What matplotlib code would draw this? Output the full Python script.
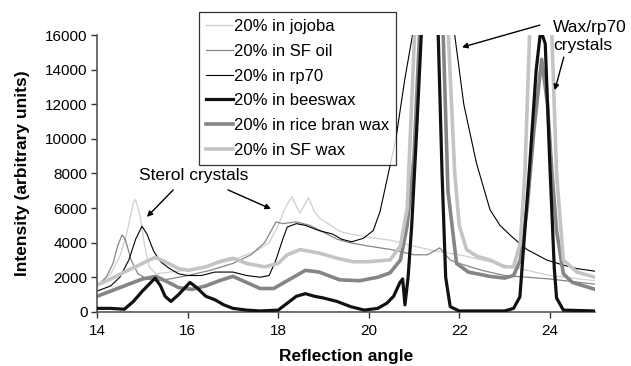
import matplotlib
matplotlib.use("Agg")
import matplotlib.pyplot as plt

plt.rcParams['font.family'] = ['Liberation Sans', 'DejaVu Sans']

# reflection angle / intensity
jojoba_x = [14.0, 14.3, 14.5, 14.65, 14.8, 14.85, 14.95, 15.05, 15.15, 15.3, 15.6, 16.0, 16.5, 17.0,
            17.5, 17.8, 18.0, 18.15, 18.3, 18.48, 18.67, 18.8, 18.92, 19.1, 19.36, 19.6, 20.0, 20.47,
            21.0, 21.5, 22.0, 22.5, 23.0, 23.5, 24.0, 24.5, 25.0]
jojoba_y = [1500, 2200, 3200, 4500, 6300, 6500, 5500, 3800, 2600, 2200, 2300, 2400, 2700, 3000,
            3500, 4000, 5000, 6000, 6650, 5700, 6600, 5800, 5400, 5100, 4650, 4500, 4300, 4150,
            3800, 3500, 3300, 3000, 2700, 2400, 2100, 1950, 1800]

sfoil_x = [14.0, 14.2, 14.35, 14.45, 14.55, 14.62, 14.75, 14.9, 15.1, 15.3, 15.6, 16.0, 16.5, 17.0,
           17.4, 17.7, 17.95, 18.1, 18.4, 18.7, 19.0, 19.3, 19.58, 20.0, 20.5, 21.0, 21.3, 21.57,
           21.8, 22.0, 22.5, 23.0, 23.5, 24.0, 24.5, 25.0]
sfoil_y = [1500, 2000, 2800, 3800, 4450, 4200, 3000, 2200, 1900, 1800, 1900, 2100, 2400, 2800,
           3300, 4000, 5200, 5100, 5200, 5000, 4600, 4200, 4000, 3800, 3600, 3300, 3300, 3700,
           3000, 2800, 2400, 2100, 2000, 1900, 1750, 1600]

rp70_x = [14.0, 14.3, 14.5, 14.7, 14.85, 14.99, 15.1, 15.25, 15.4, 15.6, 15.8, 16.0, 16.3, 16.6,
          17.0, 17.3, 17.6, 17.8, 17.95, 18.1, 18.2, 18.4, 18.6, 18.9, 19.2, 19.4, 19.62, 19.88,
          20.1, 20.25, 20.4, 20.6, 20.8, 21.0, 21.2, 21.45, 21.7, 21.9, 22.1, 22.38, 22.68, 22.9,
          23.18, 23.5, 23.93, 24.3, 24.6, 25.0]
rp70_y = [1200, 1500, 2000, 3000, 4200, 4950, 4500, 3500, 2900, 2500, 2200, 2100, 2100, 2300,
          2300, 2100, 2000, 2100, 3000, 4200, 4900, 5100, 5000, 4700, 4500, 4200, 4050, 4250,
          4700, 5800, 7600, 10000, 13500, 16500, 21000, 24000, 19000, 16000, 12000, 8600, 5900, 5000,
          4300, 3600, 3000, 2700, 2500, 2350]

beeswax_x = [14.0, 14.3, 14.6, 14.8, 15.0, 15.28, 15.4, 15.5, 15.63, 15.8, 16.05, 16.2, 16.4, 16.6,
             16.8, 17.0, 17.3, 17.6, 18.0, 18.2, 18.4, 18.6, 18.8, 19.0, 19.3, 19.6, 19.9, 20.2,
             20.4, 20.55, 20.69, 20.75, 20.8, 20.87, 20.95, 21.05, 21.17, 21.35, 21.53, 21.62, 21.7,
             21.8, 22.0, 22.5, 23.0, 23.2, 23.34, 23.56, 23.7, 23.8, 23.9, 24.0, 24.1, 24.15, 24.3,
             25.0]
beeswax_y = [200, 200, 150, 600, 1200, 1950, 1500, 900, 600, 1000, 1700, 1400, 900, 700,
             400, 200, 100, 50, 100, 500, 900, 1050, 900, 800, 600, 300, 100, 200,
             500, 900, 1700, 1900, 400, 2000, 5000, 10000, 16500, 30000, 16500, 8000, 2000,
             300, 50, 50, 50, 200, 870, 8600, 14000, 16300, 15500, 8600, 2500, 800, 100,
             50]

rice_x = [14.0, 14.3, 14.6, 15.0, 15.3, 15.5, 15.8, 16.1, 16.4, 16.7, 17.0, 17.3, 17.6, 17.9,
          18.2, 18.6, 18.9, 19.36, 19.8, 20.2, 20.47, 20.7, 20.85, 21.0, 21.13, 21.4, 21.64, 21.75,
          21.94, 22.2, 22.68, 23.0, 23.2, 23.35, 23.5, 23.65, 23.82, 23.95, 24.05, 24.15, 24.3,
          24.5, 25.0]
rice_y = [900, 1200, 1500, 1900, 2050, 1800, 1400, 1300, 1500, 1800, 2050, 1700, 1350, 1350,
          1800, 2400, 2300, 1850, 1800, 2000, 2250, 3000, 5000, 9000, 16500, 30000, 16500, 7000,
          2800, 2300, 2050, 1950, 2100, 3000, 6000, 10500, 14600, 12000, 8000, 4700, 2200,
          1700, 1300]

sfwax_x = [14.0, 14.3, 14.6, 15.0, 15.28, 15.5, 15.8, 16.02, 16.4, 16.7, 17.0, 17.3, 17.7, 18.0,
           18.2, 18.48, 18.9, 19.3, 19.65, 20.0, 20.47, 20.7, 20.85, 21.02, 21.4, 21.75, 21.9, 22.0,
           22.16, 22.4, 22.68, 23.0, 23.2, 23.35, 23.45, 23.56, 23.8, 24.04, 24.15, 24.3, 24.6,
           25.0]
sfwax_y = [1550, 1900, 2300, 2800, 3150, 2900, 2500, 2400, 2600, 2900, 3100, 2800, 2600, 2800,
           3300, 3600, 3400, 3100, 2900, 2900, 3000, 3800, 6000, 16500, 30000, 16500, 8000, 5000,
           3600, 3200, 3000, 2600, 2600, 4000, 8000, 16500, 30000, 16500, 8000, 3000, 2300,
           2000]

fig = plt.figure(figsize=(6.31, 3.66), dpi=100)
ax = fig.add_axes([0.154, 0.148, 0.789, 0.756])

ax.plot(jojoba_x, jojoba_y, color='#cfcfcf', lw=0.9, label='20% in jojoba')
ax.plot(sfoil_x, sfoil_y, color='#858585', lw=0.9, label='20% in SF oil')
ax.plot(rp70_x, rp70_y, color='black', lw=0.8, label='20% in rp70')
ax.plot(beeswax_x, beeswax_y, color='#111111', lw=2.3, label='20% in beeswax', zorder=4)
ax.plot(rice_x, rice_y, color='#858585', lw=2.6, label='20% in rice bran wax')
ax.plot(sfwax_x, sfwax_y, color='#c4c4c4', lw=2.6, label='20% in SF wax')

ax.set_xlim(14, 25)
ax.set_ylim(0, 16000)
ax.set_xticks([14, 16, 18, 20, 22, 24])
ax.set_yticks(range(0, 16001, 2000))
ax.tick_params(direction='out', length=4, width=1, pad=3, colors='#333333', labelcolor='black',
               labelsize=11)
ax.tick_params(axis='x', pad=5)
for s in ['top', 'right']:
    ax.spines[s].set_visible(False)
for s in ['left', 'bottom']:
    ax.spines[s].set_color('#555555')
    ax.spines[s].set_linewidth(1.2)

ax.set_xlabel('Reflection angle', fontsize=12.5, fontweight='bold', labelpad=8)
ax.set_ylabel('Intensity (arbitrary units)', fontsize=12.5, fontweight='bold', labelpad=11)

leg = ax.legend(loc='upper left', bbox_to_anchor=(0.205, 1.083), fontsize=12, frameon=True,
                fancybox=False, edgecolor='black', handlelength=1.6, handletextpad=0.05,
                borderpad=0.42, labelspacing=0.58, borderaxespad=0)
leg.get_frame().set_linewidth(0.9)

arrow = dict(arrowstyle='-|>', color='black', lw=1, mutation_scale=8, shrinkA=0, shrinkB=0)
ax.text(16.13, 7910, 'Sterol crystals', fontsize=12.5, ha='center', va='center')
ax.annotate('', xy=(15.10, 5490), xytext=(15.68, 7050), arrowprops=arrow)
ax.annotate('', xy=(17.84, 5950), xytext=(16.89, 7050), arrowprops=arrow)

ax.text(24.07, 15900, 'Wax/rp70\ncrystals', fontsize=12.5, ha='left', va='center',
        linespacing=1.25, clip_on=False)
ax.annotate('', xy=(22.06, 15300), xytext=(23.78, 16580), arrowprops=arrow, annotation_clip=False)
ax.annotate('', xy=(24.11, 12820), xytext=(24.31, 14730), arrowprops=arrow, annotation_clip=False)

fig.savefig('out.png', dpi=100)
